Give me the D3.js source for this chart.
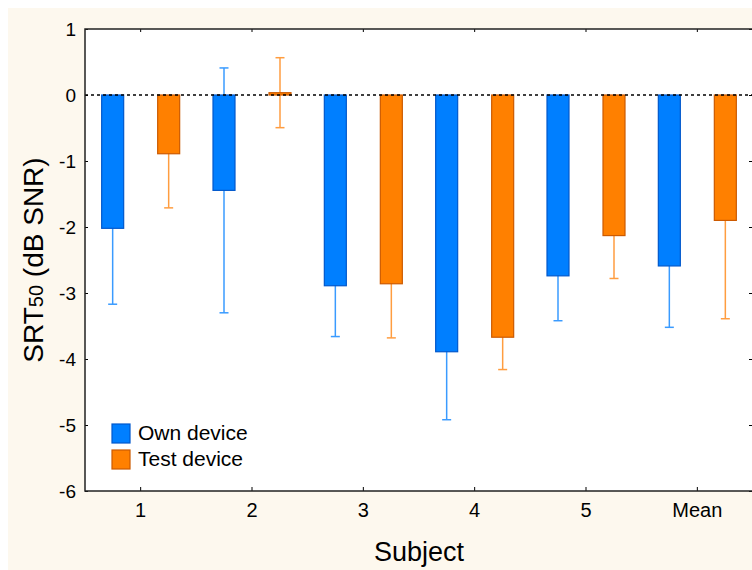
<!DOCTYPE html>
<html>
<head>
<meta charset="utf-8">
<script src="https://cdn.jsdelivr.net/npm/d3@7"></script>
<style>
  body { margin: 0; background: #fff; }
  svg { display: block; font-family: "Liberation Sans", Arial, sans-serif; }
</style>
</head>
<body>
<svg id="chartArea" width="752" height="570"></svg>
<script>
// data
const subjects = ["1", "2", "3", "4", "5", "Mean"];
const seriesNames = ["Own device", "Test device"];
const ownMean = [-2.02, -1.445, -2.89, -3.89, -2.74, -2.59];
const ownErr = [1.15, 1.855, 0.77, 1.03, 0.68, 0.93];
const testMean = [-0.89, 0.035, -2.86, -3.67, -2.13, -1.90];
const testErr = [0.82, 0.53, 0.82, 0.49, 0.65, 1.49];
const yTicks = [1, 0, -1, -2, -3, -4, -5, -6];

const fills = { "Own device": "#007fff", "Test device": "#ff8000" };
const edges = { "Own device": "#0058cc", "Test device": "#cc5a00" };
const whisk = { "Own device": "#3a9bff", "Test device": "#ff9d40" };

const svg = d3.select("#chartArea");
const margin = { top: 29, left: 85, right: 753, bottom: 491 };

svg.append("rect")
    .attr("x", 8).attr("y", 8)
    .attr("width", 752).attr("height", 570)
    .attr("fill", "#fdf8ee");

svg.append("rect")
    .attr("x", margin.left).attr("y", margin.top)
    .attr("width", margin.right - margin.left)
    .attr("height", margin.bottom - margin.top)
    .attr("fill", "#fff");

let scaleX = d3.scaleBand()
    .domain(subjects)
    .range([margin.left, margin.right])
    .padding(0);

let scaleY = d3.scaleLinear()
    .domain([-6, 1])
    .range([margin.bottom, margin.top]);

let subX = d3.scalePoint()
    .domain(seriesNames)
    .range([-28, 28]);

const barW = 22;
const capW = 9;

let rows = [];
subjects.forEach((s, i) => {
    rows.push({ subject: s, key: "Own device", value: ownMean[i], err: ownErr[i] });
    rows.push({ subject: s, key: "Test device", value: testMean[i], err: testErr[i] });
});
const cx = d => scaleX(d.subject) + scaleX.bandwidth() / 2 + subX(d.key);

// error bars (behind the bars)
let eb = svg.append("g").selectAll("g")
    .data(rows)
    .enter().append("g")
    .attr("stroke", d => whisk[d.key])
    .attr("stroke-width", 1.5);

eb.append("line")
    .attr("x1", cx).attr("x2", cx)
    .attr("y1", d => scaleY(d.value + d.err))
    .attr("y2", d => scaleY(d.value - d.err));
eb.append("line")
    .attr("x1", d => cx(d) - capW / 2).attr("x2", d => cx(d) + capW / 2)
    .attr("y1", d => scaleY(d.value + d.err))
    .attr("y2", d => scaleY(d.value + d.err));
eb.append("line")
    .attr("x1", d => cx(d) - capW / 2).attr("x2", d => cx(d) + capW / 2)
    .attr("y1", d => scaleY(d.value - d.err))
    .attr("y2", d => scaleY(d.value - d.err));

// bars
svg.append("g").selectAll("rect")
    .data(rows)
    .enter().append("rect")
    .attr("x", d => cx(d) - barW / 2)
    .attr("y", d => Math.min(scaleY(d.value), scaleY(0)))
    .attr("width", barW)
    .attr("height", d => Math.max(Math.abs(scaleY(d.value) - scaleY(0)), 2))
    .attr("fill", d => fills[d.key])
    .attr("stroke", d => edges[d.key])
    .attr("stroke-width", 1.2);

// zero reference line
svg.append("line")
    .attr("x1", margin.left).attr("x2", margin.right)
    .attr("y1", scaleY(0)).attr("y2", scaleY(0))
    .attr("stroke", "#000")
    .attr("stroke-width", 1.3)
    .attr("stroke-dasharray", "3,3");

// axes
let leftAxis = svg.append("g")
    .attr("transform", `translate(${margin.left},0)`)
    .call(d3.axisLeft(scaleY).tickValues(yTicks).tickFormat(d => String(d))
        .tickSize(-3).tickSizeOuter(0).tickPadding(9));
leftAxis.select(".domain").remove();
leftAxis.selectAll("text").style("font-size", "19px").attr("fill", "#000");

let bottomAxis = svg.append("g")
    .attr("transform", `translate(0,${margin.bottom})`)
    .call(d3.axisBottom(scaleX).tickSize(-4).tickSizeOuter(0).tickPadding(12));
bottomAxis.select(".domain").remove();
bottomAxis.selectAll("text").style("font-size", "20px").attr("fill", "#000");

let topAxis = svg.append("g")
    .attr("transform", `translate(0,${margin.top})`)
    .call(d3.axisTop(scaleX).tickSize(-3).tickSizeOuter(0).tickFormat(""));
topAxis.select(".domain").remove();

let rightAxis = svg.append("g")
    .attr("transform", `translate(${margin.right},0)`)
    .call(d3.axisRight(scaleY).tickValues(yTicks).tickSize(-4).tickSizeOuter(0).tickFormat(""));
rightAxis.select(".domain").remove();

svg.append("rect")
    .attr("x", margin.left).attr("y", margin.top)
    .attr("width", margin.right - margin.left)
    .attr("height", margin.bottom - margin.top)
    .attr("fill", "none")
    .attr("stroke", "#222")
    .attr("stroke-width", 1.5);

// axis titles
svg.append("text")
    .attr("x", (margin.left + margin.right) / 2)
    .attr("y", 561)
    .attr("text-anchor", "middle")
    .style("font-size", "27px")
    .text("Subject");

let yTitle = svg.append("text")
    .attr("transform", `translate(43, ${(margin.top + margin.bottom) / 2}) rotate(-90)`)
    .attr("text-anchor", "middle")
    .style("font-size", "28px");
yTitle.append("tspan").text("SRT");
yTitle.append("tspan").style("font-size", "20px").text("50");
yTitle.append("tspan").text(" (dB SNR)");

// legend
let legend = svg.selectAll(".legend")
    .data(seriesNames)
    .enter().append("g")
    .attr("class", "legend")
    .attr("transform", (d, i) => `translate(112, ${424 + i * 26})`);

legend.append("rect")
    .attr("width", 18)
    .attr("height", 19)
    .attr("fill", d => fills[d])
    .attr("stroke", d => edges[d])
    .attr("stroke-width", 1.2);

legend.append("text")
    .attr("x", 26)
    .attr("y", 16)
    .style("font-size", "21px")
    .text(d => d);
</script>
</body>
</html>
